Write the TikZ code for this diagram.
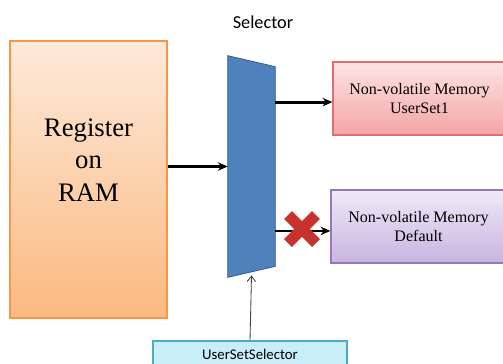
\documentclass[tikz,border=0pt]{standalone}
\usepackage{fontspec}
\setmainfont{Liberation Serif}
\newfontfamily\labelfont{Carlito}
\usetikzlibrary{arrows.meta,positioning,shadows}
\definecolor{regborder}{RGB}{247,150,70}
\definecolor{regtop}{RGB}{253,234,218}
\definecolor{regbot}{RGB}{251,185,128}
\definecolor{usborder}{RGB}{224,110,110}
\definecolor{ustop}{RGB}{253,228,228}
\definecolor{usbot}{RGB}{244,165,165}
\definecolor{defborder}{RGB}{150,120,185}
\definecolor{deftop}{RGB}{240,233,248}
\definecolor{defbot}{RGB}{200,180,225}
\definecolor{selblue}{RGB}{79,129,189}
\definecolor{selborder}{RGB}{56,93,138}
\definecolor{ussfill}{RGB}{200,238,250}
\definecolor{ussborder}{RGB}{75,172,198}
\definecolor{crossred}{RGB}{200,50,45}

\begin{document}
\begin{tikzpicture}[
    x=0.025cm, y=-0.025cm,
    box/.style={rectangle, draw, line width=0.8pt, inner sep=0pt, align=center,
                drop shadow={shadow xshift=0.8pt, shadow yshift=-0.8pt, opacity=0.25}},
    memtext/.style={font=\fontsize{11.4}{13.5}\selectfont},
    arrow/.style={-{Stealth[length=7pt,width=6pt]}, line width=2pt},
    thinarrow/.style={-{Straight Barb[length=4pt,width=6pt]}, line width=0.6pt, black!75}
]
\useasboundingbox (0,0) rectangle (503,363);

% Boxes
\node[box, draw=regborder, top color=regtop, bottom color=regbot,
      minimum width=3.925cm, minimum height=6.925cm] (reg) at (88.5,179.5) {};
\node[font=\fontsize{19}{23}\selectfont, align=center] (regtxt)
      at ([yshift=0.49cm]reg.center) {Register\\on\\RAM};

\node[box, draw=usborder, top color=ustop, bottom color=usbot, memtext,
      minimum width=4.325cm, minimum height=1.825cm] (us1) at (419.5,98.5)
      {Non-volatile Memory\\UserSet1};
\node[box, draw=defborder, top color=deftop, bottom color=defbot, memtext,
      minimum width=4.375cm, minimum height=1.825cm] (def) at (418.5,226.5)
      {Non-volatile Memory\\Default};

\node[box, draw=ussborder, fill=ussfill, font=\labelfont\fontsize{10.5}{12}\selectfont,
      minimum width=4.85cm, minimum height=0.65cm] (uss) at (250,354) {UserSetSelector};

% Selector (trapezoid)
\node[rectangle, minimum width=1.175cm, minimum height=5.525cm, inner sep=0pt] (sel)
      at (251.5,166.5) {};
\draw[fill=selblue, draw=selborder, line width=0.6pt]
      (sel.north west) -- ([yshift=-0.275cm]sel.north east)
      -- ([yshift=0.275cm]sel.south east) -- (sel.south west) -- cycle;
\node[font=\labelfont\fontsize{13}{15}\selectfont] (sellbl) at (263,22) {Selector};

% Connectors
\draw[arrow] (reg.east |- sel.west) -- (sel.west);
\draw[arrow] ([yshift=-0.09cm]us1.west -| sel.east) -- ([yshift=-0.09cm]us1.west);
\draw[arrow] ([yshift=-0.11cm]def.west -| sel.east) -- ([yshift=-0.11cm]def.west);
\draw[thinarrow] (uss.north) -- ([yshift=0.05cm]sel.south);

% Red cross
\coordinate (cross) at (302,229);
\draw[crossred, line width=8pt]
      ([shift={(-14,-14)}]cross) -- ([shift={(14,14)}]cross)
      ([shift={(-14,14)}]cross) -- ([shift={(14,-14)}]cross);

\end{tikzpicture}
\end{document}
